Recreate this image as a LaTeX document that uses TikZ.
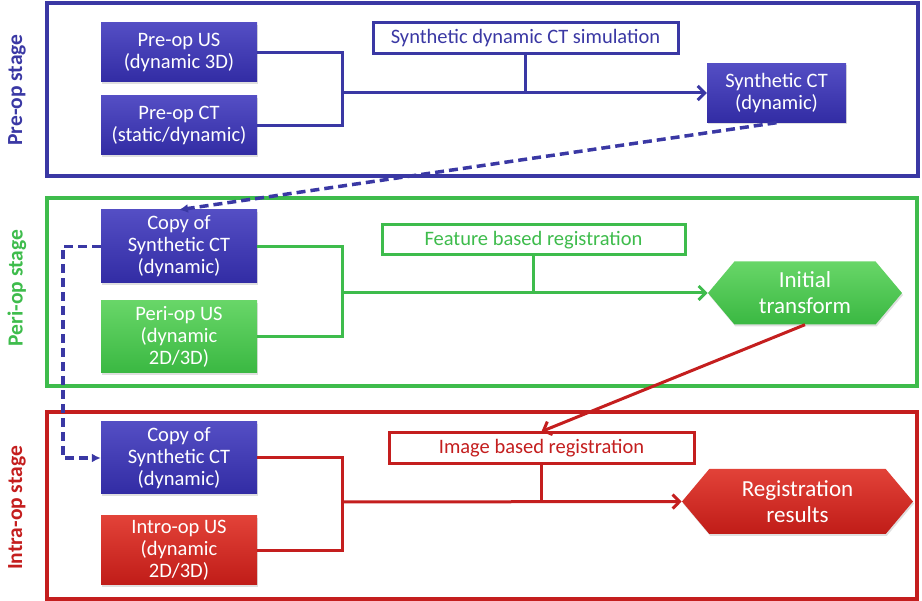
\documentclass[tikz,border=0pt]{standalone}
\usepackage{fontspec}
\setmainfont{Carlito}
\usetikzlibrary{arrows.meta,shapes.symbols,shadows}

\definecolor{opblue}{RGB}{58,56,164}
\definecolor{opbluelow}{RGB}{50,44,164}
\definecolor{opbluetop}{RGB}{84,78,196}
\definecolor{opgreen}{RGB}{62,188,76}
\definecolor{opgreenlow}{RGB}{58,184,66}
\definecolor{opgreentop}{RGB}{104,214,104}
\definecolor{opred}{RGB}{196,30,30}
\definecolor{opredlow}{RGB}{192,28,24}
\definecolor{opredtop}{RGB}{226,66,56}

\tikzset{
  stageframe/.style={line width=3.5pt},
  stagelabel/.style={rotate=90, font=\fontsize{21.5}{24}\selectfont\bfseries},
  databox/.style={draw=none, text=white, align=center, inner sep=0pt,
    minimum width=156pt, font=\fontsize{20.5}{22}\selectfont,
    drop shadow={opacity=0.25, shadow xshift=1pt, shadow yshift=-2pt}},
  bluebox/.style={databox, top color=opbluetop, bottom color=opbluelow},
  greenbox/.style={databox, top color=opgreentop, bottom color=opgreenlow},
  redbox/.style={databox, top color=opredtop, bottom color=opredlow},
  methodbox/.style={draw, fill=white, line width=3pt, inner sep=0pt,
    minimum height=31pt, font=\fontsize{20.5}{22}\selectfont},
  resulthex/.style={signal, signal to=east and west, signal pointer angle=100,
    draw=none, text=white, align=center, inner sep=0pt,
    font=\fontsize{23}{26}\selectfont,
    drop shadow={opacity=0.25, shadow xshift=1pt, shadow yshift=-2pt}},
  link/.style={line width=3pt},
  barb/.style={-{Straight Barb[length=7pt,width=14pt,line width=3pt]}},
  copylink/.style={line width=3.5pt, opblue, dash pattern=on 9pt off 5pt},
}

\begin{document}
\begin{tikzpicture}[x=1pt,y=-1pt]
    \useasboundingbox (0,0) rectangle (922,601);

    % stage frames
    \draw [stageframe, opblue] (47,3) rectangle (918,176);
    \draw [stageframe, opgreen] (47,198) rectangle (917,386);
    \draw [stageframe, opred] (47,412) rectangle (917,599);
    \node [stagelabel, text=opblue] (preLbl) at (17,90) {Pre-op stage};
    \node [stagelabel, text=opgreen] (periLbl) at (17,288) {Peri-op stage};
    \node [stagelabel, text=opred] (intraLbl) at (17,508) {Intra-op stage};

    % pre-op stage
    \node [bluebox, minimum height=59pt] (preUS) at (179,52.5) {Pre-op US\\(dynamic 3D)};
    \node [bluebox, minimum height=59pt] (preCT) at (179,125.5) {Pre-op CT\\(static/dynamic)};
    \node [methodbox, draw=opblue, text=opblue, minimum width=305pt] (simCT) at (525.5,38.5) {Synthetic dynamic CT simulation};
    \node [bluebox, minimum width=139pt, minimum height=59pt] (synCT) at (776.5,93) {Synthetic CT\\(dynamic)};
    \coordinate (jPre) at (342,93);
    \draw [link, opblue] (preUS.east) -- (preUS.east -| jPre) -- (preCT.east -| jPre) -- (preCT.east);
    \draw [link, opblue] (simCT.south) -- (simCT.south |- jPre);
    \draw [link, barb, opblue] (jPre) -- (synCT.west);

    % peri-op stage
    \node [bluebox, minimum height=73pt] (copyPeri) at (179,246.5) {Copy of\\Synthetic CT\\(dynamic)};
    \node [greenbox, minimum height=72pt] (periUS) at (179,337) {Peri-op US\\(dynamic\\2D/3D)};
    \node [methodbox, draw=opgreen, text=opgreen, minimum width=303pt, minimum height=30pt] (featReg) at (533.5,240) {Feature based registration};
    \node [resulthex, top color=opgreentop, bottom color=opgreenlow, minimum width=194pt, minimum height=63pt] (initTf) at (805,293) {Initial\\transform};
    \coordinate (jPeri) at (342,293);
    \draw [link, opgreen] (copyPeri.east) -- (copyPeri.east -| jPeri) -- (periUS.east -| jPeri) -- (periUS.east);
    \draw [link, opgreen] (featReg.south) -- (featReg.south |- jPeri);
    \draw [link, barb, opgreen] (jPeri) -- (initTf.west);

    % intra-op stage
    \node [bluebox, minimum height=72pt] (copyIntra) at (179,458) {Copy of\\Synthetic CT\\(dynamic)};
    \node [redbox, minimum height=69pt] (intraUS) at (179,550.5) {Intro-op US\\(dynamic\\2D/3D)};
    \node [methodbox, draw=opred, text=opred, minimum width=305pt] (imgReg) at (541.5,448.5) {Image based registration};
    \node [resulthex, top color=opredtop, bottom color=opredlow, minimum width=231pt, minimum height=65pt] (regRes) at (797.5,501.5) {Registration\\results};
    \coordinate (jIntra) at (342,502);
    \draw [link, opred] (copyIntra.east) -- (copyIntra.east -| jIntra) -- (intraUS.east -| jIntra) -- (intraUS.east);
    \draw [link, opred] (imgReg.south) -- (imgReg.south |- jIntra);
    \draw [link, barb, opred] (jIntra) -- (regRes.west);

    % hand-over between stages
    \draw [copylink, -{Latex[length=9pt,width=9pt]}] (synCT.south) -- (copyPeri.north);
    \draw [copylink, -{Latex[length=9pt,width=9pt]}] (copyPeri.west) -- ++(-38,0) |- (copyIntra.west);
    \draw [link, barb, opred] (initTf.south) -- (imgReg.north);
\end{tikzpicture}
\end{document}
